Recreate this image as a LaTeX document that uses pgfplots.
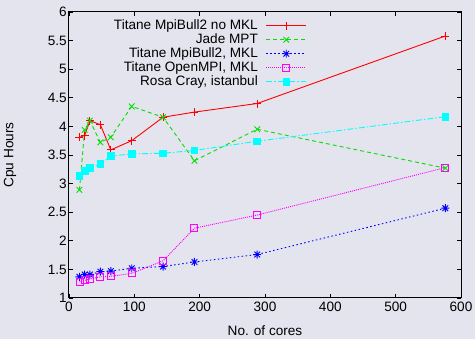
\documentclass[border=0pt]{standalone}
\usepackage{fontspec}
\setmainfont{Liberation Sans}
\usepackage{pgfplots}
\pgfplotsset{compat=1.18}
\usetikzlibrary{backgrounds}
\definecolor{bgc}{RGB}{228,228,238}
\definecolor{gpgreen}{RGB}{0,225,0}
\definecolor{gpred}{RGB}{255,0,0}
\definecolor{gpblue}{RGB}{0,0,255}
\definecolor{gpmag}{RGB}{255,0,255}
\definecolor{gpcyan}{RGB}{0,255,255}
\pgfdeclareplotmark{gpstar}{%
  \pgfpathmoveto{\pgfqpoint{-\pgfplotmarksize}{0pt}}\pgfpathlineto{\pgfqpoint{\pgfplotmarksize}{0pt}}%
  \pgfpathmoveto{\pgfqpoint{0pt}{-\pgfplotmarksize}}\pgfpathlineto{\pgfqpoint{0pt}{\pgfplotmarksize}}%
  \pgfpathmoveto{\pgfqpoint{-.707\pgfplotmarksize}{-.707\pgfplotmarksize}}\pgfpathlineto{\pgfqpoint{.707\pgfplotmarksize}{.707\pgfplotmarksize}}%
  \pgfpathmoveto{\pgfqpoint{-.707\pgfplotmarksize}{.707\pgfplotmarksize}}\pgfpathlineto{\pgfqpoint{.707\pgfplotmarksize}{-.707\pgfplotmarksize}}%
  \pgfusepathqstroke}
\begin{document}
\begin{tikzpicture}[font=\fontsize{13.6}{15.5}\selectfont]
\begin{axis}[
  scale only axis, width=392pt, height=286pt,
  xmin=0, xmax=600, ymin=1, ymax=6,
  xtick={0,100,...,600}, ytick={1,1.5,...,6},
  tick align=inside, major tick length=4pt,
  axis line style={line width=1pt},
  every tick/.style={black, line width=0.8pt},
  /pgf/number format/assume math mode=true,
  yticklabel={\pgfmathprintnumber[fixed,precision=1]{\tick}},
  xticklabel style={inner sep=0pt, yshift=-4pt},
  yticklabel style={inner sep=0pt, xshift=-2pt},
  xlabel={No. of cores}, ylabel={Cpu Hours},
  every axis x label/.style={at={(axis description cs:0.5,0)}, anchor=base, yshift=-38pt},
  every axis y label/.style={at={(axis description cs:-0.1505,0.5)}, anchor=center, rotate=90},
  legend plot pos=right,
  legend cell align=right,
  legend image code/.code={\draw[mark repeat=2,mark phase=2] plot coordinates {(0pt,0pt)(20pt,0pt)(40pt,0pt)};},
  legend style={at={(0.607,0.9755)}, anchor=north east, draw=none, fill=none, inner sep=0pt,
    column sep=8pt, row sep=1pt, nodes={inner sep=0pt, text height=10pt, text depth=3pt}},
  every axis plot/.append style={line width=0.9pt, mark options={solid}},
]
\addplot[gpred, mark=+, mark size=4pt] coordinates {
 (16,3.81) (24,3.84) (32,4.10) (48,4.03) (64,3.59) (96,3.75) (144,4.16) (192,4.25) (288,4.40) (576,5.58)};
\addlegendentry{Titane MpiBull2 no MKL}
\addplot[gpgreen, mark=x, mark size=4pt, dash pattern=on 4pt off 3pt] coordinates {
 (16,2.89) (24,3.94) (32,4.10) (48,3.72) (64,3.81) (96,4.35) (144,4.16) (192,3.40) (288,3.95) (576,3.27)};
\addlegendentry{Jade MPT}
\addplot[gpblue, mark=gpstar, mark size=4pt, dash pattern=on 1.5pt off 2.5pt] coordinates {
 (16,1.37) (24,1.41) (32,1.41) (48,1.46) (64,1.47) (96,1.52) (144,1.55) (192,1.63) (288,1.76) (576,2.57)};
\addlegendentry{Titane MpiBull2, MKL}
\addplot[gpmag, mark=square, mark size=3.5pt, dash pattern=on 1pt off 1pt] coordinates {
 (16,1.28) (24,1.31) (32,1.33) (48,1.37) (64,1.38) (96,1.43) (144,1.65) (192,2.22) (288,2.45) (576,3.28)};
\addlegendentry{Titane OpenMPI, MKL}
\addplot[gpcyan, mark=square*, mark size=3.3pt, dash pattern=on 6pt off 2pt on 1.5pt off 2pt] coordinates {
 (16,3.13) (24,3.22) (32,3.27) (48,3.34) (64,3.48) (96,3.52) (144,3.53) (192,3.58) (288,3.74) (576,4.17)};
\addlegendentry{Rosa Cray, istanbul}
\end{axis}
\path[use as bounding box] ([xshift=-69pt,yshift=-41pt]current axis.south west) rectangle ([xshift=14pt,yshift=12pt]current axis.north east);
\begin{scope}[on background layer]
\fill[bgc] ([xshift=-69pt,yshift=-41pt]current axis.south west) rectangle ([xshift=14pt,yshift=12pt]current axis.north east);
\end{scope}
\end{tikzpicture}
\end{document}
